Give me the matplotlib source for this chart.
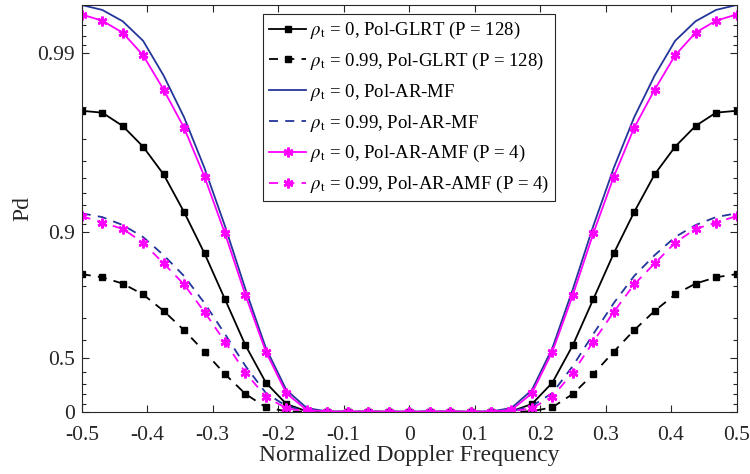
import numpy as np
import matplotlib
matplotlib.use('Agg')
import matplotlib.pyplot as plt
from matplotlib.ticker import FixedLocator, FixedFormatter

plt.rcParams['font.family'] = ['Liberation Serif', 'DejaVu Serif']
plt.rcParams['mathtext.fontset'] = 'stix'
plt.rcParams['axes.unicode_minus'] = False

# normalized Doppler frequency grid (33 points, step 1/32)
freq = np.arange(-16, 17) / 32.0

# Pd values
glrt_rho0 = [0.979, 0.9785, 0.9745, 0.9667, 0.9525, 0.923, 0.869, 0.764, 0.574, 0.311, 0.094,
             0.005, 0, 0, 0, 0, 0, 0, 0, 0, 0, 0.005,
             0.094, 0.311, 0.574, 0.764, 0.869, 0.923, 0.9525, 0.9667, 0.9745, 0.9785, 0.979]
glrt_rho99 = [0.829, 0.822, 0.807, 0.778, 0.726, 0.649, 0.537, 0.383, 0.204, 0.055, 0.005,
              0, 0, 0, 0, 0, 0, 0, 0, 0, 0, 0,
              0.005, 0.055, 0.204, 0.383, 0.537, 0.649, 0.726, 0.778, 0.807, 0.822, 0.829]
mf_rho0 = [0.9946, 0.99425, 0.99335, 0.99145, 0.98665, 0.9772, 0.9562, 0.9078, 0.7925, 0.558, 0.243,
           0.046, 0.003, 0, 0, 0, 0, 0, 0, 0, 0.003, 0.046,
           0.243, 0.558, 0.7925, 0.9078, 0.9562, 0.9772, 0.98665, 0.99145, 0.99335, 0.99425, 0.9946]
mf_rho99 = [0.9217, 0.9178, 0.909, 0.8938, 0.866, 0.825, 0.752, 0.631, 0.444, 0.213, 0.07,
            0.008, 0, 0, 0, 0, 0, 0, 0, 0, 0, 0.008,
            0.07, 0.213, 0.444, 0.631, 0.752, 0.825, 0.866, 0.8938, 0.909, 0.9178, 0.9217]
amf_rho0 = [0.9939, 0.9934, 0.9923, 0.9897, 0.984, 0.9739, 0.951, 0.8986, 0.776, 0.537, 0.21,
            0.022, 0.002, 0, 0, 0, 0, 0, 0, 0, 0.002, 0.022,
            0.21, 0.537, 0.776, 0.8986, 0.951, 0.9739, 0.984, 0.9897, 0.9923, 0.9934, 0.9939]
amf_rho99 = [0.9189, 0.9117, 0.9045, 0.8857, 0.851, 0.805, 0.722, 0.593, 0.394, 0.175, 0.043,
             0.003, 0, 0, 0, 0, 0, 0, 0, 0, 0, 0.003,
             0.043, 0.175, 0.394, 0.593, 0.722, 0.805, 0.851, 0.8857, 0.9045, 0.9117, 0.9189]

labels = [r'$\rho_{\mathrm{t}}$ = 0, Pol-GLRT (P = 128)',
          r'$\rho_{\mathrm{t}}$ = 0.99, Pol-GLRT (P = 128)',
          r'$\rho_{\mathrm{t}}$ = 0, Pol-AR-MF',
          r'$\rho_{\mathrm{t}}$ = 0.99, Pol-AR-MF',
          r'$\rho_{\mathrm{t}}$ = 0, Pol-AR-AMF (P = 4)',
          r'$\rho_{\mathrm{t}}$ = 0.99, Pol-AR-AMF (P = 4)']

y_major = [0, 0.5, 0.9, 0.99]
y_major_labels = ['0', '0.5', '0.9', '0.99']
y_minor = [0.1, 0.2, 0.3, 0.4, 0.6, 0.7, 0.8,
           0.91, 0.92, 0.93, 0.94, 0.95, 0.96, 0.97, 0.98,
           0.991, 0.992, 0.993, 0.994]
x_ticks = [-0.5, -0.4, -0.3, -0.2, -0.1, 0, 0.1, 0.2, 0.3, 0.4, 0.5]
x_tick_labels = ['-0.5', '-0.4', '-0.3', '-0.2', '-0.1', '0', '0.1', '0.2', '0.3', '0.4', '0.5']


# Pd axis is -log10(1 - Pd)
def fwd(p):
    p = np.asarray(p, dtype=float)
    return -np.log10(np.clip(1 - p, 1e-12, None))


def inv(t):
    return 1 - 10 ** (-np.asarray(t, dtype=float))


blue = '#24359a'
mag = '#ff00ff'
star = (6, 2, 0)

fig = plt.figure(figsize=(7.5, 4.74), dpi=100)
ax = fig.add_axes([0.109, 0.1314, 0.873, 0.858])
ax.set_yscale('function', functions=(fwd, inv))

ax.plot(freq, glrt_rho0, '-', color='k', lw=1.3, marker='s', ms=4.5, label=labels[0])
ax.plot(freq, glrt_rho99, '--', color='k', lw=1.3, marker='s', ms=4.5, label=labels[1],
        dashes=(5, 4))
ax.plot(freq, mf_rho0, '-', color=blue, lw=1.3, label=labels[2])
ax.plot(freq, mf_rho99, '--', color=blue, lw=1.3, label=labels[3], dashes=(5, 4))
ax.plot(freq, amf_rho0, '-', color=mag, lw=1.3, marker=star, ms=7, mew=1.8, label=labels[4])
ax.plot(freq, amf_rho99, '--', color=mag, lw=1.3, marker=star, ms=7, mew=1.8, label=labels[5],
        dashes=(5, 4))

ax.set_xlim(-0.5, 0.5)
ax.set_ylim(0, max(mf_rho0))

ax.xaxis.set_major_locator(FixedLocator(x_ticks))
ax.xaxis.set_major_formatter(FixedFormatter(x_tick_labels))
ax.yaxis.set_major_locator(FixedLocator(y_major))
ax.yaxis.set_major_formatter(FixedFormatter(y_major_labels))
ax.yaxis.set_minor_locator(FixedLocator(y_minor))
ax.yaxis.set_minor_formatter(FixedFormatter([''] * len(y_minor)))

ax.tick_params(which='both', direction='in', top=True, right=True, labelsize=15.5,
               color='#262626', labelcolor='#262626', width=0.8)
ax.tick_params(which='major', length=5)
ax.tick_params(which='minor', length=3)
ax.tick_params(axis='x', which='major', pad=10)
ax.tick_params(axis='y', which='major', pad=5)
for s in ax.spines.values():
    s.set_color('#262626')
    s.set_linewidth(0.8)

ax.set_xlabel('Normalized Doppler Frequency', fontsize=17, color='#262626', labelpad=0)
ax.set_ylabel('Pd', fontsize=17, color='#262626', labelpad=3)

leg = ax.legend(loc='upper center', bbox_to_anchor=(0.5, 0.977), fontsize=13.5,
                frameon=True, fancybox=False, edgecolor='#262626', framealpha=1,
                handlelength=2.0, handletextpad=0.2, labelspacing=0.52, borderpad=0.3,
                borderaxespad=0)
leg.get_frame().set_linewidth(0.8)

fig.savefig('out.png', dpi=100)
